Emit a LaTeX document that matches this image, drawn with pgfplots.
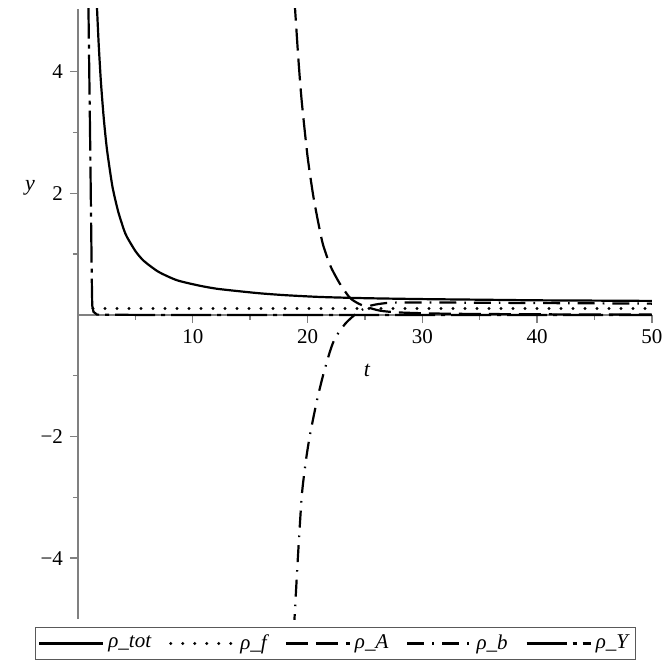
\documentclass[border=0pt]{standalone}
\usepackage{fontspec}
\setmainfont{Liberation Serif}
\usepackage{pgfplots}
\pgfplotsset{compat=1.18}
\definecolor{axisgray}{RGB}{128,128,128}
\begin{document}
\begin{tikzpicture}
\begin{axis}[
  set layers,
  scale only axis, width=287pt, height=305pt,
  xmin=0, xmax=50, ymin=-5, ymax=5.03,
  axis lines=middle,
  axis line style={draw=axisgray, line width=0.8pt, -},
  xtick={10,20,30,40,50}, xticklabels={10,20,30,40,50},
  ytick={-4,-2,0,2,4}, yticklabels={−4,−2,0,2,4},
  minor xtick={5,15,25,35,45},
  minor ytick={-3,-1,1,3},
  tick align=outside,
  major tick length=4pt, minor tick length=2.5pt,
  tick style={draw=axisgray, line width=0.7pt},
  tick label style={font=\fontsize{10.5}{12}\selectfont},
  legend style={at={(0.448,0)}, anchor=north, yshift=-4pt, legend columns=5,
    draw=black!65, line width=0.6pt, inner sep=1.5pt,
    font=\fontsize{10.5}{12}\selectfont\itshape,
    /tikz/every even column/.append style={column sep=7pt},
    /tikz/every odd column/.append style={column sep=0pt}},
  legend image code/.code={\draw[#1] (0pt,0pt) -- (32pt,0pt);},
]
\addplot[black, line width=1.1pt, smooth, tension=0.4] coordinates {
(1.63,5.15) (1.8,4.46) (2.0,3.82) (2.25,3.22) (2.53,2.71) (3.0,2.11) (3.5,1.70)
(4.0,1.40) (4.27,1.28) (5.0,1.05) (5.72,0.89) (7.0,0.71) (8.62,0.57) (10.6,0.48)
(12.1,0.43) (14,0.39) (15.85,0.355) (18,0.325) (21.08,0.295) (25,0.275) (30,0.26)
(35,0.25) (40,0.24) (45,0.235) (50,0.23)};
\addlegendentry{ρ\_tot}
\addplot[black, line width=1.6pt, line cap=round, dash pattern=on 0pt off 6pt] coordinates {
(1.3,0.105) (10,0.105) (20,0.105) (30,0.105) (40,0.105) (50,0.105)};
\addlegendentry{ρ\_f}
\addplot[black, line width=1.1pt, dash pattern=on 11pt off 4pt, smooth, tension=0.4] coordinates {
(18.85,5.2) (19.2,4.2) (19.49,3.51) (20.0,2.6) (20.5,1.95) (21.0,1.45) (21.35,1.15) (22.0,0.8) (22.82,0.51)
(23.69,0.28) (24.4,0.19) (25.15,0.13) (26.3,0.07) (28,0.04) (32,0.02) (40,0.01) (50,0.005)};
\addlegendentry{ρ\_A}
\addplot[black, line width=1.1pt, dash pattern=on 8.5pt off 4pt on 0.8pt off 4pt, smooth, tension=0.4] coordinates {
(18.8,-5.2) (19.16,-3.97) (19.5,-2.96) (19.85,-2.4) (20.2,-1.98) (20.8,-1.42) (21.34,-1.0) (21.95,-0.6)
(22.4,-0.38) (23.26,-0.15) (24.1,0.0) (25.15,0.13) (25.9,0.17) (27.2,0.2) (30,0.205)
(35,0.2) (40,0.195) (45,0.19) (50,0.185)};
\addlegendentry{ρ\_b}
\addplot[black, line width=1.1pt, dash pattern=on 20pt off 3pt on 2pt off 3pt] coordinates {
(0.9,5.2) (1.07,2.69) (1.2,0.6) (1.24,0.15) (1.35,0.05) (1.66,0.005) (5,0) (50,0)};
\addlegendentry{ρ\_Y}
\end{axis}
\node[font=\fontsize{11}{12}\selectfont\itshape] at (144.5pt,124.5pt) {t};
\node[font=\fontsize{11}{12}\selectfont\itshape] at (-24pt,215.5pt) {y};
\pgfresetboundingbox
\path (-39pt,-23pt) rectangle (293.5pt,309.5pt);
\end{tikzpicture}
\end{document}
